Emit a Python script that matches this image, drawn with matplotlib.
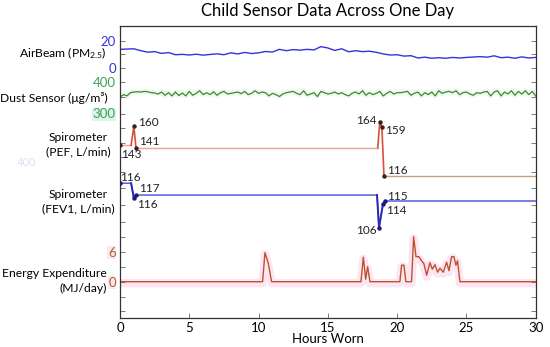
import matplotlib
matplotlib.use("Agg")
from matplotlib import pyplot as plt
import numpy as np

plt.rcParams['font.family'] = ['Lato', 'DejaVu Sans']
plt.rcParams['mathtext.fontset'] = 'custom'
plt.rcParams['mathtext.rm'] = 'Lato'
plt.rcParams['mathtext.it'] = 'Lato:italic'

# ---- data ----
airbeam = [13.6, 13.8, 14.0, 12.6, 11.5, 11.9, 10.6, 11.2, 9.6, 9.9, 9.4, 10.0, 9.3, 9.8, 10.3,
           9.6, 11.0, 10.2, 11.3, 10.5, 11.0, 12.0, 11.6, 13.6, 12.6, 13.4, 13.0, 13.6, 13.2, 15.6,
           14.6, 12.8, 14.0, 11.8, 12.6, 11.9, 12.2, 11.4, 10.2, 9.4, 9.6, 8.6, 8.9, 7.2, 7.8,
           7.0, 7.4, 7.0, 7.6, 7.2, 7.6, 7.9, 8.2, 7.8, 8.8, 7.4, 7.8, 7.0, 8.0, 7.2, 7.6]

dust = [352, 360, 356, 366, 368, 369, 368, 370, 369, 366, 365, 362, 368, 358, 366, 356, 368,
        357, 365, 356, 370, 358, 364, 372, 360, 366, 360, 369, 358, 366, 370, 362, 364, 366,
        368, 363, 370, 360, 364, 372, 364, 368, 366, 356, 364, 360, 354, 362, 366, 368, 370,
        364, 360, 372, 358, 362, 366, 354, 370, 366, 362, 364, 368, 362, 366, 360, 356, 364,
        368, 362, 372, 358, 366, 360, 364, 370, 356, 364, 370, 362, 366, 366, 368, 370, 358,
        364, 368, 356, 366, 360, 368, 356, 372, 364, 368, 370, 366, 372, 360, 366, 368, 362,
        358, 366, 364, 368, 370, 356, 368, 372, 356, 368, 362, 372, 358, 370, 362, 372, 360,
        370, 356]

pef_t = [0, 0.8, 1.0, 1.15, 18.6, 18.75, 18.9, 19.05, 30]
pef_v = [143, 143, 160, 141, 141, 164, 159, 116, 116]
pef_labels = ["143", "160", "141", "164", "159", "116"]

fev_t = [0, 0.8, 1.0, 1.12, 18.55, 18.69, 18.98, 19.12, 30]
fev_v = [121, 121, 116, 117, 117, 106, 114, 115, 115]
fev_labels = ["116", "116", "117", "106", "114", "115"]

en_t = [0, 10.29, 10.46, 10.7, 10.94, 17.39, 17.56, 17.73, 17.87, 18.04, 20.2, 20.32, 20.49,
        20.63, 21.04, 21.19, 21.36, 21.57, 21.76, 21.93, 22.13, 22.37, 22.54, 22.73, 22.92,
        23.09, 23.33, 23.57, 23.74, 23.93, 24.10, 24.24, 24.36, 24.53, 30]
en_v = [0, 0, 5.8, 3.7, 0, 0, 4.9, 0.5, 3.0, 0, 0, 3.3, 3.3, 0, 0, 9.0, 5.0, 5.0, 4.2, 3.6,
        1.3, 3.8, 2.5, 3.4, 1.9, 2.7, 1.9, 3.9, 2.2, 5.0, 5.0, 3.3, 4.2, 0, 0]

row_names = ["AirBeam (PM$_{2.5}$)", "Dust Sensor (\u03bcg/m\u00b3)", "Spirometer\n(PEF, L/min)",
             "Spirometer\n(FEV1, L/min)", "Energy Expenditure\n(MJ/day)"]

# each trace is stacked on one shared axis: y_plot = base - scale * value
def air_y(v): return 67.7 - 1.35 * np.asarray(v, float)
def dust_y(v): return 210.9 - 0.323 * np.asarray(v, float)
def pef_y(v): return 306.2 - 1.125 * np.asarray(v, float)
def fev_y(v): return 542.55 - 2.97 * np.asarray(v, float)
def en_y(v): return 281.7 - 5.0 * np.asarray(v, float)

blue = '#3434d8'
green = '#3f8a22'
fig = plt.figure(figsize=(5.5, 3.47), dpi=100)
ax = fig.add_axes([120 / 550, 29 / 347, 415.7 / 550, 292 / 347])

t_air = np.linspace(0, 30, len(airbeam))
t_dust = np.linspace(0, 30, len(dust))
ax.plot(t_air, air_y(airbeam), color=blue, lw=1.0)
ax.plot(t_dust, dust_y(dust), color='#eef9f3', lw=4, zorder=1)
ax.plot(t_dust, dust_y(dust), color=green, lw=0.9, zorder=2)

# PEF
pt, pv = np.array(pef_t), pef_y(pef_v)
ax.plot(pt[:2], pv[:2], color='#e8a38c', lw=1.0)
ax.plot(pt[1:4], pv[1:4], color='#d8503a', lw=1.2)
ax.plot(pt[3:5], pv[3:5], color='#eaa890', lw=1.0)
ax.plot(pt[4:8], pv[4:8], color='#d8503a', lw=1.2)
ax.plot(pt[7:], pv[7:], color='#c9a07c', lw=1.0)
pdots = [0, 2, 3, 5, 6, 7]
ax.plot(pt[pdots], pv[pdots], 'o', color='#3a2020', ms=2.2, zorder=5)

# FEV1
ft, fv = np.array(fev_t), fev_y(fev_v)
ax.plot(ft, fv, color='#4a4ae0', lw=1.0)
ax.plot(ft[1:3], fv[1:3], color='#2a2ab8', lw=1.4)
ax.plot(ft[4:8], fv[4:8], color='#2a2ab8', lw=1.4)
fdots = [0, 2, 3, 5, 6, 7]
ax.plot(ft[fdots], fv[fdots], 'o', color='#1a1a80', ms=2.2, zorder=5)

# energy expenditure
et, ev = np.array(en_t), en_y(en_v)
ax.plot(et, ev + 1.5, color='#fde6f3', lw=6, zorder=1)
ax.plot(et, ev, color='#c2502c', lw=1.0, zorder=2)

# point labels
fs = 8.5
lab_pos_pef = [(0.07, 155, 'left'), (1.3, 123, 'left'), (1.37, 141.7, 'left'),
               (18.54, 120.7, 'right'), (19.12, 130, 'left'), (19.26, 170, 'left')]
for s, (x, y, ha) in zip(pef_labels, lab_pos_pef):
    ax.text(x, y, s, fontsize=fs, ha=ha, va='center', color='#222222')
lab_pos_fev = [(0.0, 177.7, 'left'), (1.23, 204.3, 'left'), (1.37, 189, 'left'),
               (18.54, 230.7, 'right'), (19.19, 211, 'left'), (19.26, 196, 'left')]
for s, (x, y, ha) in zip(fev_labels, lab_pos_fev):
    ax.text(x, y, s, fontsize=fs, ha=ha, va='center', color='#222222')

ax.set_xlim(0, 30)
ax.set_ylim(318, 26)
ax.set_xticks([0, 5, 10, 15, 20, 25, 30])
yt = [40.7, 53.5, 67.7, 81.7, 96.5, 113.5, 128, 143, 157, 172, 188, 205, 221.5,
      236.7, 251.7, 266.7, 281.7, 296.7, 310.7]
ylabels = {40.7: ('20', blue, None), 67.7: ('0', blue, None),
           81.7: ('400', '#3ca05a', None), 113.5: ('300', '#3ca05a', '#dff3e6'),
           251.7: ('6', '#b0602a', '#fde6f3'), 281.7: ('0', '#b0602a', '#fde6f3')}
ax.set_yticks(yt)
ax.set_yticklabels([ylabels[v][0] if v in ylabels else '' for v in yt])
for v, lab in zip(yt, ax.get_yticklabels()):
    if v in ylabels:
        lab.set_color(ylabels[v][1])
        if ylabels[v][2]:
            lab.set_bbox(dict(facecolor=ylabels[v][2], edgecolor='none', pad=0.5))
ax.tick_params(axis='both', direction='in', length=3.5, width=0.6, color='#666666',
               labelsize=9.5, right=True, top=False, pad=3)
for sp in ax.spines.values():
    sp.set_color('#333333')
    sp.set_linewidth(0.9)

ax.set_xlabel("Hours Worn", fontsize=9.5, labelpad=-1)
ax.set_title("Child Sensor Data Across One Day", fontsize=12, pad=7, x=0.5)

# row labels at the left
def ftext(x, y, s, **kw):
    fig.text(x / 550, 1 - y / 347, s, **kw)

ftext(107, 53, row_names[0], fontsize=8.7, ha='right', va='center')
ftext(108, 98, row_names[1], fontsize=8.7, ha='right', va='center')
ftext(78, 145, row_names[2], fontsize=8.7, ha='center', va='center', linespacing=1.35)
ftext(78, 202, row_names[3], fontsize=8.7, ha='center', va='center', linespacing=1.35)
ftext(107, 281, row_names[4], fontsize=8.7, ha='right', va='center', linespacing=1.35)
ftext(27, 163, "400", fontsize=8, ha='center', va='center', color='#e4dcf6')

plt.savefig('out.png', dpi=100)
